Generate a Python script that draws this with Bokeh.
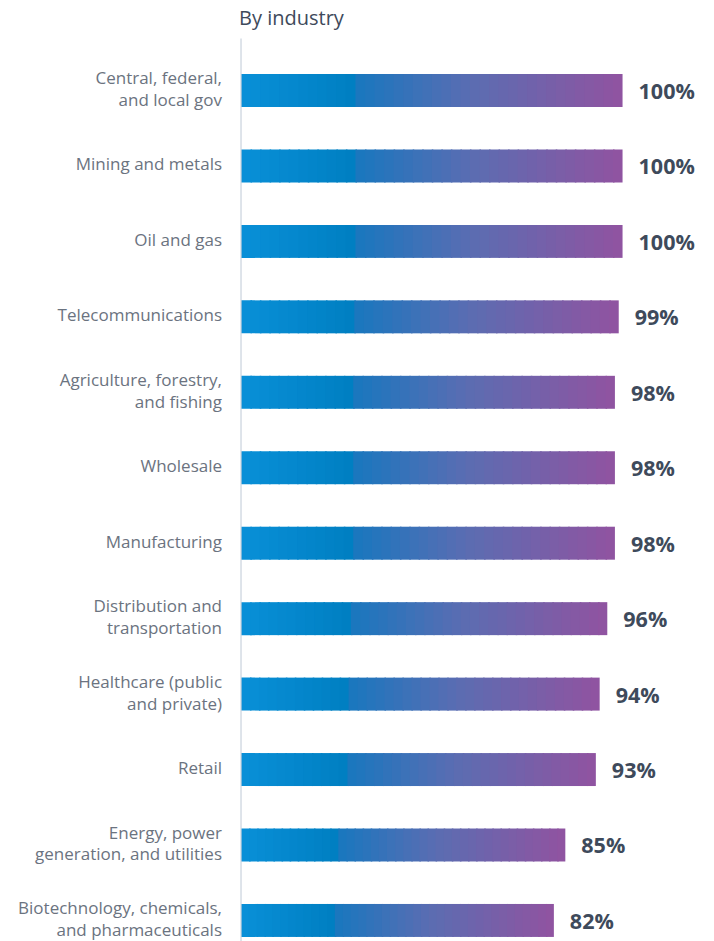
from bokeh.plotting import figure
from bokeh.models import Range1d, ColumnDataSource, Label
from bokeh.core.properties import value
from bokeh.embed import file_html
from bokeh.resources import INLINE

categories = [
    "Central, federal,\nand local gov",
    "Mining and metals",
    "Oil and gas",
    "Telecommunications",
    "Agriculture, forestry,\nand fishing",
    "Wholesale",
    "Manufacturing",
    "Distribution and\ntransportation",
    "Healthcare (public\nand private)",
    "Retail",
    "Energy, power\ngeneration, and utilities",
    "Biotechnology, chemicals,\nand pharmaceuticals",
]
values = [100, 100, 100, 99, 98, 98, 98, 96, 94, 93, 85, 82]
value_labels = [f"{v}%" for v in values]
title_text = "By industry"

# gradient stops (fraction along each bar, colour)
stops = [(0.0, (9, 144, 216)), (0.29, (0, 127, 194)), (0.30, (24, 119, 191)),
         (0.6, (90, 109, 178)), (1.0, (145, 83, 160))]

def grad(t):
    for (t0, c0), (t1, c1) in zip(stops[:-1], stops[1:]):
        if t <= t1:
            f = 0 if t1 == t0 else (t - t0) / (t1 - t0)
            c = [round(a + (b - a) * f) for a, b in zip(c0, c1)]
            return "#%02x%02x%02x" % tuple(c)
    return "#%02x%02x%02x" % stops[-1][1]

N = 40
BAR_H = 0.437
left, right, top, bottom, colors = [], [], [], [], []
for i, v in enumerate(values):
    for k in range(N):
        left.append(v * k / N)
        right.append(v * (k + 1) / N + (0.4 if k < N - 1 else 0))
        top.append(i - BAR_H / 2)
        bottom.append(i + BAR_H / 2)
        colors.append(grad((k + 0.5) / N))

p = figure(width=714, height=941, output_backend="svg", toolbar_location=None,
           x_range=Range1d(-63.04, 124.1), y_range=Range1d(11.279, -1.1928),
           min_border=0, outline_line_color=None)
p.xaxis.visible = False
p.yaxis.visible = False
p.grid.visible = False
p.background_fill_color = "white"

p.quad(left=left, right=right, top=top, bottom=bottom, fill_color=colors,
       line_color=None)

ys = list(range(len(categories)))
# axis line
p.segment(x0=[0], x1=[0], y0=[-0.689], y1=[11.279], line_color="#c9d2dd", line_width=1.2)

src = ColumnDataSource(dict(y=ys, cat=categories, v=values, lab=value_labels,
                            zero=[0] * len(ys)))
p.text(x="zero", y="y", text="cat", source=src, x_offset=-19, y_offset=-2,
       text_align="right", text_baseline="middle", text_font=value("Open Sans"),
       text_font_size="17px", text_color="#6b7380", text_line_height=0.95)
p.text(x="v", y="y", text="lab", source=src, x_offset=16, text_align="left",
       text_baseline="middle", text_font=value("Open Sans"), text_font_size="21.5px",
       text_font_style="bold", text_color="#3e4a5b")

p.add_layout(Label(x=0, y=-0.9675, x_offset=-2, text=title_text, text_align="left",
                   text_baseline="middle", text_font="Open Sans", text_font_size="20px",
                   text_color="#3e4a5b"))

open("out.html", "w").write(file_html(p, INLINE))
